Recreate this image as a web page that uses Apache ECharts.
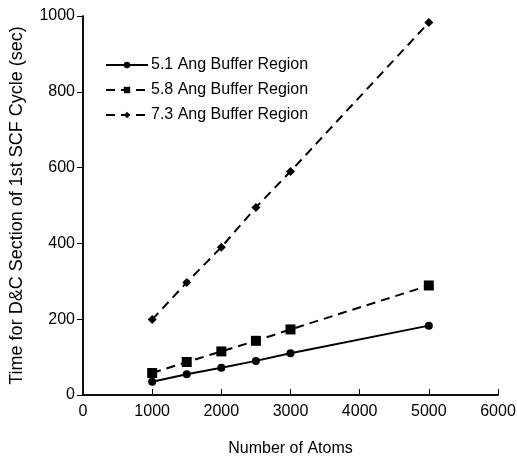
<!DOCTYPE html>
<html><head><meta charset="utf-8">
<script src="https://cdn.jsdelivr.net/npm/echarts@6/dist/echarts.min.js"></script>
<style>html,body{margin:0;padding:0;background:#fff}#c{width:517px;height:456px}</style>
</head><body><div id="c"></div>
<script>
const atoms = [1000, 1500, 2000, 2500, 3000, 5000];
const s51 = [35, 55, 72, 90, 110, 183];
const s58 = [58, 87, 115, 143, 173, 289];
const s73 = [199, 297, 390, 495, 590, 983];
const names = ['5.1 Ang Buffer Region', '5.8 Ang Buffer Region', '7.3 Ang Buffer Region'];
const font = 'Liberation Sans, Arial, sans-serif';
const pair = a => atoms.map((x, i) => [x, a[i]]);
const plain = v => String(v);
const chart = echarts.init(document.getElementById('c'));
chart.setOption({
  animation: false,
  grid: {left: 83, right: 19, top: 16, bottom: 61, outerBoundsMode: 'none', containLabel: false},
  legend: {
    orient: 'vertical', left: 105, top: 57, padding: 0, itemGap: 9, itemWidth: 42, itemHeight: 8,
    textStyle: {fontFamily: font, fontSize: 16, color: '#000', padding: [0,0,0,-2]},
    data: names
  },
  xAxis: [{
    type: 'value', min: 0, max: 6000, interval: 1000,
    name: 'Number of Atoms', nameLocation: 'middle', nameGap: 46,
    nameTextStyle: {fontFamily: font, fontSize: 16, color: '#000'},
    axisLine: {lineStyle: {color: '#000', width: 1.5}},
    axisTick: {inside: true, length: 6, lineStyle: {color: '#000'}},
    axisLabel: {fontFamily: font, fontSize: 16, color: '#000', margin: 9, formatter: plain},
    splitLine: {show: false}
  }, {
    type: 'value', position: 'top', min: 0, max: 6000,
    axisLine: {show: true, lineStyle: {color: '#000', width: 1.5}},
    axisTick: {show: false}, axisLabel: {show: false}, splitLine: {show: false}
  }],
  yAxis: [{
    type: 'value', min: 0, max: 1000, interval: 200,
    name: 'Time for D&C Section of 1st SCF Cycle (sec)', nameLocation: 'middle', nameGap: 57,
    nameTextStyle: {fontFamily: font, fontSize: 18, color: '#000'},
    axisLine: {show: true, lineStyle: {color: '#000', width: 1.5}},
    axisTick: {show: true, length: 6, lineStyle: {color: '#000'}},
    axisLabel: {fontFamily: font, fontSize: 16, color: '#000', margin: 8, formatter: plain},
    splitLine: {show: false}
  }, {
    type: 'value', position: 'right', min: 0, max: 1000, interval: 200,
    axisLine: {show: true, lineStyle: {color: '#000', width: 1.5}},
    axisTick: {show: true, inside: true, length: 6, lineStyle: {color: '#000'}},
    axisLabel: {show: false}, splitLine: {show: false}
  }],
  series: [
    {name: names[0], type: 'line', data: pair(s51), symbol: 'circle', symbolSize: 8,
     itemStyle: {color: '#000'}, lineStyle: {color: '#000', width: 2}},
    {name: names[1], type: 'line', data: pair(s58), symbol: 'rect', symbolSize: 10,
     itemStyle: {color: '#000'}, lineStyle: {color: '#000', width: 2, type: [9, 6]}},
    {name: names[2], type: 'line', data: pair(s73), symbol: 'diamond', symbolSize: 9,
     itemStyle: {color: '#000'}, lineStyle: {color: '#000', width: 2, type: [9, 6]}}
  ]
});
</script></body></html>
